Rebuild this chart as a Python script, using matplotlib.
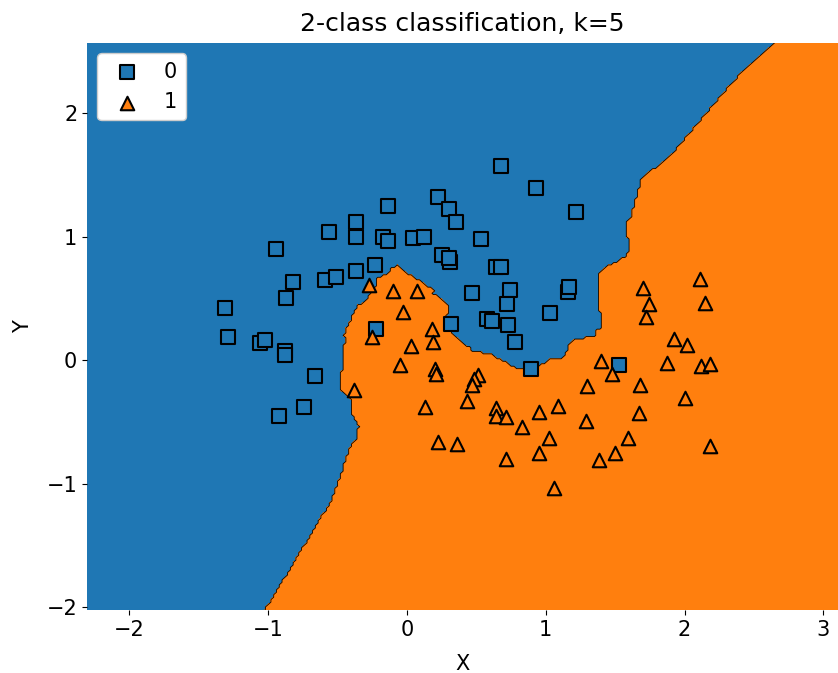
#!/usr/bin/env python3
import numpy as np
import matplotlib
matplotlib.use("Agg")
import matplotlib.pyplot as plt
from matplotlib.colors import ListedColormap

# --- sample points ---
x0 = [-1.31, -1.29, -1.06, -1.02, -0.94, -0.87, -0.82, -0.88, -0.88, -0.66,
      -0.92, -0.74, -0.56, -0.59, -0.51, -0.37, -0.37, -0.37, -0.23, -0.22,
      -0.17, -0.14, -0.14, 0.04, 0.12, 0.22, 0.30, 0.35, 0.25, 0.31,
      0.30, 0.53, 0.68, 0.93, 1.22, 0.47, 0.32, 0.58, 0.61, 0.64,
      0.68, 0.74, 0.72, 0.73, 0.78, 1.03, 1.16, 1.17, 0.89, 1.53]
y0 = [0.42, 0.19, 0.14, 0.16, 0.90, 0.50, 0.63, 0.07, 0.04, -0.13,
      -0.45, -0.38, 1.04, 0.65, 0.67, 1.12, 1.00, 0.72, 0.77, 0.25,
      1.00, 1.25, 0.96, 0.99, 1.00, 1.32, 1.22, 1.12, 0.85, 0.79,
      0.83, 0.98, 1.57, 1.39, 1.20, 0.54, 0.29, 0.33, 0.32, 0.75,
      0.75, 0.57, 0.45, 0.28, 0.15, 0.38, 0.55, 0.59, -0.07, -0.04]

x1 = [-0.27, -0.10, 0.07, -0.03, 0.18, -0.25, -0.38, 0.19, 0.03, -0.05,
      0.20, 0.21, 0.51, 0.48, 0.47, 0.43, 0.13, 0.64, 0.64, 0.71,
      0.83, 0.95, 0.22, 0.36, 0.71, 0.95, 1.02, 1.06, 1.09, 1.29,
      1.30, 1.40, 1.48, 1.68, 1.67, 1.59, 1.50, 1.38, 1.92, 2.02,
      1.87, 2.12, 2.18, 2.00, 2.18, 1.70, 1.74, 1.72, 2.11, 2.15]
y1 = [0.61, 0.56, 0.56, 0.39, 0.25, 0.19, -0.24, 0.15, 0.11, -0.04,
      -0.07, -0.11, -0.12, -0.15, -0.20, -0.33, -0.38, -0.39, -0.45, -0.46,
      -0.54, -0.42, -0.66, -0.68, -0.80, -0.75, -0.63, -1.04, -0.37, -0.49,
      -0.21, -0.01, -0.11, -0.20, -0.43, -0.63, -0.75, -0.81, 0.17, 0.12,
      -0.02, -0.05, -0.03, -0.31, -0.70, 0.58, 0.45, 0.35, 0.66, 0.46]

class_labels = ["0", "1"]
colors = ["#1f77b4", "#ff7f0e"]
markers = ["s", "^"]
k = 5


def main():
    X = np.column_stack([x0 + x1, y0 + y1])
    y = np.array([0] * len(x0) + [1] * len(x1))

    # --- k-nearest-neighbour vote on a grid ---
    res = 0.02
    xx, yy = np.meshgrid(np.arange(-2.35, 3.2, res), np.arange(-2.06, 2.6, res))
    grid = np.column_stack([xx.ravel(), yy.ravel()])
    d = ((grid[:, None, :] - X[None, :, :]) ** 2).sum(axis=2)
    nn = np.argsort(d, axis=1)[:, :k]
    Z = (y[nn].mean(axis=1) > 0.5).astype(int).reshape(xx.shape)

    plt.rcParams["font.size"] = 15
    fig = plt.figure(figsize=(8.38, 6.73), dpi=100)
    ax = fig.add_axes([87 / 838, 63 / 673, 751 / 838, 567 / 673])

    cmap = ListedColormap(colors)
    ax.contourf(xx, yy, Z, levels=[-0.5, 0.5, 1.5], cmap=cmap)
    ax.contour(xx, yy, Z, levels=[0.5], colors="black", linewidths=0.6)

    for c, (xs, ys) in enumerate([(x0, y0), (x1, y1)]):
        ax.scatter(xs, ys, s=95, c=colors[c], marker=markers[c],
                   edgecolors="black", linewidths=1.5, label=class_labels[c],
                   zorder=3)

    ax.set_xlim(-2.305, 3.105)
    ax.set_ylim(-2.024, 2.567)
    for sp in ax.spines.values():
        sp.set_visible(False)

    ax.set_xlabel("X", labelpad=10)
    ax.set_ylabel("Y", labelpad=10)
    ax.set_title("2-class classification, k=5", fontsize=18, pad=9)
    ax.legend(loc="upper left", framealpha=1.0)

    fig.savefig("out.png", dpi=100)
    plt.close(fig)


if __name__ == "__main__":
    main()
